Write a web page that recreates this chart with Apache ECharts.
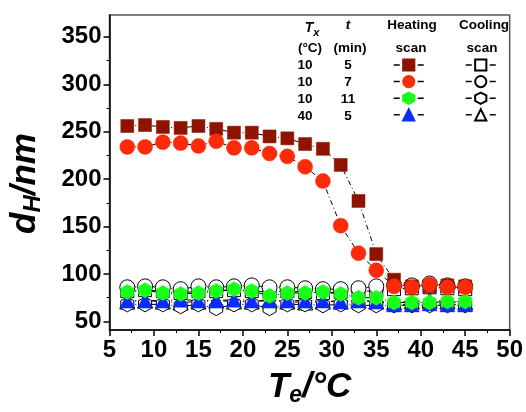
<!DOCTYPE html>
<html><head><meta charset="utf-8">
<script src="https://cdn.jsdelivr.net/npm/echarts@6/dist/echarts.min.js"></script>
<style>html,body{margin:0;padding:0;background:#fff}#c{width:526px;height:412px}</style>
</head><body><div id="c"></div>
<script>
// ---- data ----
const temps = [7, 9, 11, 13, 15, 17, 19, 21, 23, 25, 27, 29, 31, 33, 35, 37, 39, 41, 43, 45];
const heat10_5  = [256, 257, 255, 254, 256, 253, 249, 249, 245, 243, 237, 232, 215, 177, 121, 94, 87, 87, 88, 87];
const heat10_7  = [234, 234, 239, 238, 235, 240, 233, 233, 227, 224, 213, 198, 151, 122, 104, 87, 86, 89, 86, 86];
const heat10_11 = [81, 83, 80, 79, 80, 82, 84, 82, 77, 80, 80, 81, 79, 75, 75, 70, 70, 70, 71, 71];
const heat40_5  = [72, 72, 72, 73, 72, 72, 73, 72, 72, 72, 72, 72, 71, 72, 71, 68, 68, 69, 68, 68];
const cool10_5  = [82, 83, 82, 80, 82, 82, 83, 82, 81, 82, 81, 80, 81, 82, 82, 84, 85, 86, 85, 84];
const cool10_7  = [86, 87, 86, 84, 87, 86, 87, 88, 86, 86, 85, 84, 84, 85, 87, 88, 88, 90, 88, 87];
const cool10_11 = [68, 68, 68, 66, 68, 64, 68, 68, 64, 68, 68, 67, 68, 67, 67, 67, 67, 67, 67, 67];
const cool40_5  = [71, 72, 71, 70, 71, 72, 71, 71, 72, 71, 70, 71, 71, 72, 71, 70, 71, 72, 71, 70];
const yTicks = [50, 100, 150, 200, 250, 300, 350];
const yMinorTicks = [75, 125, 175, 225, 275, 325];
const legendTx = ['10', '10', '10', '40'];
const legendT = ['5', '7', '11', '5'];

const FONT = 'Liberation Sans, Arial, sans-serif';
const hexPath = 'path://M0,-1 L0.866,-0.5 L0.866,0.5 L0,1 L-0.866,0.5 L-0.866,-0.5 Z';
const dashDot = [5, 3, 1, 3];
const pts = arr => temps.map((t, i) => [t, arr[i]]);

function openSeries(name, arr, symbol, size) {
  return {
    name, type: 'line', data: pts(arr), symbol, symbolSize: size, symbolKeepAspect: true,
    itemStyle: {color: '#fff', borderColor: '#000', borderWidth: 1},
    lineStyle: {color: '#000', width: 1, type: dashDot}, animation: false
  };
}
function fillSeries(name, arr, symbol, size, color) {
  return {
    name, type: 'line', data: pts(arr), symbol, symbolSize: size, symbolKeepAspect: true,
    itemStyle: {color: color, borderColor: color, borderWidth: 0.5},
    lineStyle: {color: '#000', width: 1, type: dashDot}, animation: false
  };
}

const series = [
  openSeries('c1', cool10_5, 'rect', 13),
  openSeries('c4', cool40_5, 'triangle', 15),
  openSeries('c3', cool10_11, hexPath, 15),
  openSeries('c2', cool10_7, 'circle', 15),
  fillSeries('h4', heat40_5, 'triangle', 15, '#0a2cff'),
  fillSeries('h3', heat10_11, hexPath, 15, '#18ff18'),
  fillSeries('h1', heat10_5, 'rect', 13, '#8e1300'),
  fillSeries('h2', heat10_7, 'circle', 15, '#ff2a0a')
];

const txtStyle = (extra) => Object.assign({fontFamily: FONT, fontWeight: 'bold', fontSize: 13.5, fill: '#000', textAlign: 'center', textVerticalAlign: 'middle'}, extra || {});
const rowsY = [65, 82, 99, 116];
const graphics = [
  {type: 'text', x: 312, y: 28, style: txtStyle({text: '{a|T}{b|x}', rich: {a: {fontFamily: FONT, fontWeight: 'bold', fontStyle: 'italic', fontSize: 14}, b: {fontFamily: FONT, fontWeight: 'bold', fontStyle: 'italic', fontSize: 11, padding: [9, 0, 0, 0]}}})},
  {type: 'text', x: 348, y: 25, style: txtStyle({text: 't', fontStyle: 'italic'})},
  {type: 'text', x: 412, y: 25, style: txtStyle({text: 'Heating'})},
  {type: 'text', x: 484, y: 25, style: txtStyle({text: 'Cooling'})},
  {type: 'text', x: 310, y: 48, style: txtStyle({text: '(°C)'})},
  {type: 'text', x: 350, y: 48, style: txtStyle({text: '(min)'})},
  {type: 'text', x: 411, y: 48, style: txtStyle({text: 'scan'})},
  {type: 'text', x: 482, y: 48, style: txtStyle({text: 'scan'})}
];
rowsY.forEach((y, i) => {
  graphics.push({type: 'text', x: 305, y: y, style: txtStyle({text: legendTx[i]})});
  graphics.push({type: 'text', x: 348, y: y, style: txtStyle({text: legendT[i]})});
});

const legendCommon = {
  orient: 'vertical', itemWidth: 30, itemHeight: 14, itemGap: 3, padding: 0, selectedMode: false,
  formatter: () => '', textStyle: {fontSize: 6},
  lineStyle: {type: [6, 18], color: '#000', width: 1.5}
};

const chart = echarts.init(document.getElementById('c'), null, {renderer: 'canvas'});
chart.setOption({
  animation: false,
  backgroundColor: '#fff',
  grid: {left: 107, right: 13, top: 15, bottom: 71, show: true, borderColor: '#555', borderWidth: 1.5, backgroundColor: 'transparent'},
  legend: [
    Object.assign({}, legendCommon, {data: ['h1', 'h2', 'h3', 'h4'], left: 393, top: 58}),
    Object.assign({}, legendCommon, {data: ['c1', 'c2', 'c3', 'c4'], left: 465, top: 58})
  ],
  xAxis: {
    type: 'value', min: 5, max: 50, interval: 5,
    axisLine: {show: true, onZero: false, lineStyle: {color: '#000', width: 1.5}},
    axisTick: {show: true, inside: false, length: 6, lineStyle: {color: '#000', width: 1.5}},
    minorTick: {show: true, splitNumber: 2, length: 3, lineStyle: {color: '#000', width: 1}},
    axisLabel: {color: '#000', fontFamily: FONT, fontWeight: 'bold', fontSize: 24, margin: 8},
    splitLine: {show: false},
    name: '{a|T}{b|e}{a|/°C}', nameLocation: 'middle', nameGap: 38,
    nameTextStyle: {rich: {
      a: {fontFamily: FONT, fontWeight: 'bold', fontStyle: 'italic', fontSize: 35, color: '#000'},
      b: {fontFamily: FONT, fontWeight: 'bold', fontStyle: 'italic', fontSize: 23, color: '#000', padding: [16, 0, 0, 0]}
    }}
  },
  yAxis: [{
    type: 'value', min: 41, max: 373,
    axisLine: {show: true, onZero: false, lineStyle: {color: '#000', width: 1.5}},
    axisTick: {show: true, inside: false, length: 6, customValues: yTicks, lineStyle: {color: '#000', width: 1.5}},
    axisLabel: {customValues: yTicks, color: '#000', fontFamily: FONT, fontWeight: 'bold', fontSize: 24, margin: 8},
    splitLine: {show: false},
    name: '{a|d}{b|H}{a|/nm}', nameLocation: 'middle', nameGap: 64, nameRotate: 90,
    nameTextStyle: {padding: [0, 22, 0, 0], rich: {
      a: {fontFamily: FONT, fontWeight: 'bold', fontStyle: 'italic', fontSize: 35, color: '#000'},
      b: {fontFamily: FONT, fontWeight: 'bold', fontStyle: 'italic', fontSize: 24, color: '#000', padding: [16, 0, 0, 0]}
    }}
  }, {
    type: 'value', min: 41, max: 373, position: 'left',
    axisLine: {show: false},
    axisTick: {show: true, inside: false, length: 3, customValues: yMinorTicks, lineStyle: {color: '#000', width: 1}},
    axisLabel: {show: false},
    splitLine: {show: false}
  }],
  graphic: graphics,
  series: series
});
</script></body></html>
